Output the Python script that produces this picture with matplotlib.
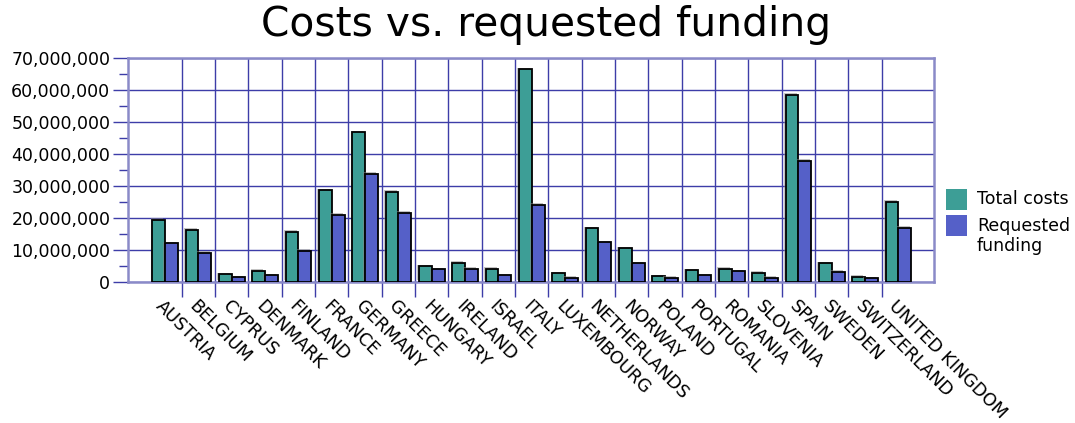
import matplotlib
matplotlib.use("Agg")
import matplotlib.pyplot as plt
import matplotlib.patheffects as pe
from matplotlib.patches import Rectangle
import numpy as np
from matplotlib.ticker import FuncFormatter, MultipleLocator, FixedLocator

countries = ["AUSTRIA", "BELGIUM", "CYPRUS", "DENMARK", "FINLAND", "FRANCE", "GERMANY",
             "GREECE", "HUNGARY", "IRELAND", "ISRAEL", "ITALY", "LUXEMBOURG", "NETHERLANDS",
             "NORWAY", "POLAND", "PORTUGAL", "ROMANIA", "SLOVENIA", "SPAIN", "SWEDEN",
             "SWITZERLAND", "UNITED KINGDOM"]
total_costs = [19.4, 16.25, 2.4, 3.44, 15.6, 28.6, 46.8, 28.1, 4.9, 6.0, 4.17, 66.5, 2.7,
               16.8, 10.5, 1.77, 3.65, 4.17, 2.8, 58.4, 5.8, 1.56, 25.0]
requested_funding = [12.1, 9.06, 1.46, 2.09, 9.7, 21.0, 33.75, 21.7, 3.96, 4.06, 2.08, 24.2,
                     1.35, 12.4, 5.8, 1.35, 2.1, 3.33, 1.35, 37.9, 3.1, 1.15, 16.9]
total_costs = [v * 1e6 for v in total_costs]
requested_funding = [v * 1e6 for v in requested_funding]
series_names = ["Total costs", "Requested\nfunding"]
series_colors = ["#3d9e96", "#5560c8"]

plt.rcParams['font.family'] = ['DejaVu Sans']

W, H = 1075, 423
fig = plt.figure(figsize=(W / 100, H / 100), dpi=100)
ax = fig.add_axes([127.7 / W, 1 - 282 / H, (934 - 127.7) / W, (282 - 58) / H])

n = len(countries)
x = np.arange(n)
w = 0.385
grid_c = "#3d3da8"
spine_c = "#8a8ac8"
shadow = [pe.SimplePatchShadow(offset=(-1.2, 1.2), shadow_rgbFace="#888888", alpha=0.5), pe.Normal()]

for i, (vals, col) in enumerate(zip([total_costs, requested_funding], series_colors)):
    ax.bar(x + (i - 0.5) * w, vals, w, color=col, edgecolor="black", linewidth=1.3,
           zorder=3, path_effects=shadow)

ax.set_xlim(-1.12, n - 1 + 1.07)
ax.set_ylim(0, 70e6)

ax.yaxis.set_major_locator(MultipleLocator(10e6))
ax.yaxis.set_minor_locator(MultipleLocator(5e6))
ax.yaxis.set_major_formatter(FuncFormatter(lambda v, p: f"{int(v):,}"))
ax.tick_params(axis='y', which='major', length=11, width=1, color=grid_c, labelsize=12.5, pad=1.5)
ax.tick_params(axis='y', which='minor', length=6.5, width=1, color=grid_c)

ax.set_xticks(x)
ax.set_xticklabels(countries, rotation=-45, ha='left', va='top', rotation_mode='anchor', fontsize=12.7)
ax.xaxis.set_minor_locator(FixedLocator(np.arange(n - 1) + 0.5))
ax.tick_params(axis='x', which='major', length=0, pad=11)
ax.tick_params(axis='x', which='minor', length=10.8, width=1, color=grid_c)

ax.grid(True, which='major', axis='y', color=grid_c, linewidth=1, zorder=1)
ax.grid(True, which='minor', axis='x', color=grid_c, linewidth=1, zorder=1)
ax.set_axisbelow(True)
for s in ax.spines.values():
    s.set_color(spine_c)
    s.set_linewidth(1.8)

fig.text(546 / W, 1 - 25 / H, "Costs vs. requested funding", fontsize=29.3, ha='center', va='center')

# legend
sq = 21
for i, (name, col) in enumerate(zip(series_names, series_colors)):
    top = 189 + i * 26
    fig.patches.append(Rectangle((946 / W, 1 - (top + sq) / H), sq / W, sq / H,
                                 transform=fig.transFigure, facecolor=col, edgecolor='none'))
    fig.text(977 / W, 1 - (top + sq / 2) / H, name.split("\n")[0], fontsize=12.5,
             ha='left', va='center')
    for j, extra in enumerate(name.split("\n")[1:]):
        fig.text(977 / W, 1 - (top + sq / 2 + 20 * (j + 1)) / H, extra, fontsize=12.5,
                 ha='left', va='center')

fig.savefig("out.png", dpi=100)
